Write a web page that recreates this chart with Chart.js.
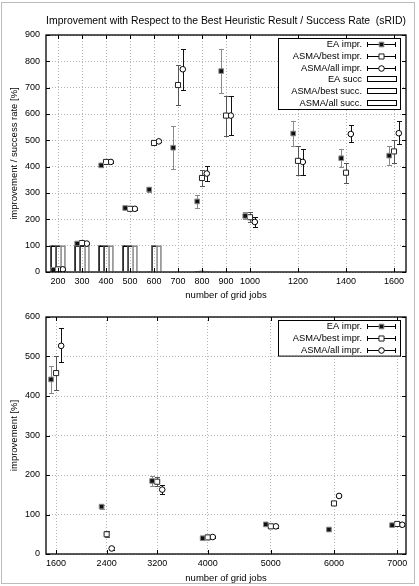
<!DOCTYPE html>
<html>
<head>
<meta charset="utf-8">
<script src="https://cdn.jsdelivr.net/npm/chart.js@4.4.1/dist/chart.umd.min.js"></script>
<style>
  html, body { margin: 0; padding: 0; background: #fff; }
  #page { position: relative; width: 419px; height: 586px; overflow: hidden; }
  #frame { position: absolute; left: 1px; top: 2px; width: 412px; height: 580px; border: 1px solid #bbb; pointer-events: none; }
  canvas { position: absolute; left: 0; }
  #top { top: 0; }
  #bottom { top: 302px; }
</style>
</head>
<body>
<div id="page">
  <canvas id="top" width="419" height="302"></canvas>
  <canvas id="bottom" width="419" height="284"></canvas>
  <div id="frame"></div>
</div>
<script>
const FONT = '"Liberation Sans", Arial, Helvetica, sans-serif'

// upper panel (sRID, 200..1600 jobs)
const jobsSmall = [200, 300, 400, 500, 600, 700, 800, 900, 1000, 1200, 1400, 1600]
const xTicksSmall = [200, 300, 400, 500, 600, 700, 800, 900, 1000, 1200, 1400, 1600]
const yTicksSmall = [0, 100, 200, 300, 400, 500, 600, 700, 800, 900]
const eaImprSmall = [8, 108, 405, 243, 313, 472, 268, 763, 213, 526, 432, 442]
const eaErrSmall = [[5, 11], [104, 112], [400, 410], [240, 246], [305, 322], [392, 553], [243, 293], [680, 845], [200, 228], [480, 572], [398, 468], [408, 477]]
const bestImprSmall = [10, 110, 418, 240, 490, 710, 357, 594, 208, 422, 377, 458]
const bestErrSmall = [[7, 13], [106, 114], [414, 422], [236, 244], [484, 496], [635, 785], [328, 388], [518, 670], [190, 227], [368, 478], [338, 415], [415, 502]]
const allImprSmall = [10, 108, 418, 240, 496, 770, 374, 594, 190, 418, 524, 527]
const allErrSmall = [[7, 13], [105, 111], [415, 421], [237, 243], [492, 500], [693, 848], [345, 402], [520, 667], [172, 207], [370, 467], [492, 557], [485, 572]]
const eaSucc = [100, 100, 100, 100, 2, 0, 1, 0, 0, 0, 0, 0]
const bestSucc = [100, 100, 100, 100, 100, 0, 4, 0, 0, 0, 0, 0]
const allSucc = [100, 100, 100, 100, 100, 0, 3, 0, 0, 0, 0, 0]

// lower panel (1600..7000 jobs)
const jobsLarge = [1600, 2400, 3200, 4000, 5000, 6000, 7000]
const xTicksLarge = [1600, 2400, 3200, 4000, 5000, 6000, 7000]
const yTicksLarge = [0, 100, 200, 300, 400, 500, 600]
const eaImprLarge = [442, 120, 185, 40, 75, 62, 73]
const eaErrLarge = [[408, 477], [115, 125], [172, 198], [37, 43], [71, 79], [59, 65], [70, 76]]
const bestImprLarge = [458, 50, 183, 42, 70, 128, 76]
const bestErrLarge = [[415, 502], [42, 58], [172, 194], [39, 45], [67, 73], [124, 132], [72, 80]]
const allImprLarge = [527, 14, 163, 43, 70, 147, 74]
const allErrLarge = [[485, 572], [10, 18], [152, 175], [40, 46], [67, 73], [144, 150], [71, 77]]

const eaStyle = { pointStyle: 'rect', pointRadius: 3.3, borderColor: '#8a8a8a', backgroundColor: '#111', borderWidth: 1, errColor: '#8a8a8a' }
const bestStyle = { pointStyle: 'rect', pointRadius: 3.6, borderColor: '#222', backgroundColor: '#fff', borderWidth: 1, errColor: '#555' }
const allStyle = { pointStyle: 'circle', pointRadius: 2.8, borderColor: '#000', backgroundColor: '#fff', borderWidth: 1, errColor: '#111' }

function imprSet(label, xs, ys, errs, shift, style) {
  return {
    type: 'scatter',
    label,
    data: xs.map((x, i) => ({ x: x + shift, y: ys[i], lo: errs[i][0], hi: errs[i][1] })),
    pointHoverRadius: style.pointRadius,
    ...style,
  }
}

function succSet(label, xs, ys, color, edges) {
  return {
    type: 'bar',
    label,
    data: xs.map((x, i) => ({ x, y: ys[i] })),
    backgroundColor: 'rgba(0,0,0,0)',
    borderColor: color,
    borderWidth: edges,
    borderSkipped: false,
    barThickness: 5,
    succ: true,
  }
}

const gnuplotLook = {
  id: 'gnuplotLook',
  beforeDatasetDraw(chart, args) {
    const ds = chart.data.datasets[args.index]
    if (!ds.errColor) return
    const { ctx, scales: { x, y } } = chart
    ctx.save()
    ctx.strokeStyle = ds.errColor
    ctx.lineWidth = 1
    ctx.beginPath()
    ds.data.forEach(d => {
      const px = Math.round(x.getPixelForValue(d.x)) + 0.5
      const top = Math.round(y.getPixelForValue(d.hi)) + 0.5
      const bot = Math.round(y.getPixelForValue(d.lo)) + 0.5
      ctx.moveTo(px, top); ctx.lineTo(px, bot)
      ctx.moveTo(px - 2.5, top); ctx.lineTo(px + 2.5, top)
      ctx.moveTo(px - 2.5, bot); ctx.lineTo(px + 2.5, bot)
    })
    ctx.stroke()
    ctx.restore()
  },
  afterDraw(chart, args, opts) {
    const { ctx, chartArea: a, scales: { x, y } } = chart
    ctx.save()
    ctx.strokeStyle = '#000'
    ctx.lineWidth = 1
    ctx.beginPath()
    y.ticks.forEach(t => {
      const py = Math.round(y.getPixelForValue(t.value)) + 0.5
      ctx.moveTo(a.left, py); ctx.lineTo(a.left + 4, py)
      ctx.moveTo(a.right, py); ctx.lineTo(a.right - 4, py)
    })
    x.ticks.forEach(t => {
      const px = Math.round(x.getPixelForValue(t.value)) + 0.5
      ctx.moveTo(px, a.bottom); ctx.lineTo(px, a.bottom - 4)
      ctx.moveTo(px, a.top); ctx.lineTo(px, a.top + 4)
    })
    ctx.stroke()
    ctx.lineWidth = 1.3
    ctx.strokeRect(a.left, a.top, a.right - a.left, a.bottom - a.top)

    ctx.fillStyle = '#000'
    if (opts.title) {
      ctx.font = '10.4px ' + FONT
      ctx.textAlign = 'center'
      ctx.textBaseline = 'middle'
      ctx.fillText(opts.title, (a.left + a.right) / 2, opts.titleY)
    }

    // key box, gnuplot style: text on the left, sample on the right
    const sets = chart.data.datasets
    const step = 11.8
    const boxL = a.right - 128, boxR = a.right - 6, boxT = a.top + 3
    const boxB = boxT + 12 + (sets.length - 1) * step
    ctx.fillStyle = '#fff'
    ctx.fillRect(boxL, boxT, boxR - boxL, boxB - boxT)
    ctx.lineWidth = 1
    ctx.strokeStyle = '#000'
    ctx.strokeRect(boxL + 0.5, boxT + 0.5, boxR - boxL, boxB - boxT)
    ctx.font = '9.3px ' + FONT
    ctx.textAlign = 'right'
    ctx.textBaseline = 'middle'
    const sL = a.right - 39, sR = a.right - 10
    sets.forEach((ds, i) => {
      const cy = Math.round(boxT + 6 + i * step) + 0.5
      ctx.fillStyle = '#000'
      ctx.fillText(ds.label, a.right - 44, cy)
      if (ds.succ) {
        ctx.strokeStyle = '#000'
        ctx.strokeRect(sL + 0.5, cy - 3, sR - sL, 5)
      } else {
        ctx.strokeStyle = '#000'
        ctx.beginPath()
        ctx.moveTo(sL, cy); ctx.lineTo(sR, cy)
        ctx.moveTo(sL + 0.5, cy - 2.5); ctx.lineTo(sL + 0.5, cy + 2.5)
        ctx.moveTo(sR - 0.5, cy - 2.5); ctx.lineTo(sR - 0.5, cy + 2.5)
        ctx.stroke()
        ctx.fillStyle = ds.backgroundColor
        ctx.strokeStyle = ds.borderColor
        ctx.lineWidth = ds.borderWidth
        Chart.helpers.drawPoint(ctx, { pointStyle: ds.pointStyle, radius: ds.pointRadius, borderWidth: ds.borderWidth, rotation: 0 }, (sL + sR) / 2, cy)
        ctx.lineWidth = 1
      }
    })
    ctx.restore()
  },
}

function axes(xMin, xMax, xTicks, yMax, yTicks, yTitle, xAxisHeight, xTitlePad) {
  return {
    x: {
      type: 'linear',
      min: xMin,
      max: xMax,
      offset: false,
      afterBuildTicks: s => { s.ticks = xTicks.map(v => ({ value: v })) },
      afterFit: s => { s.height = xAxisHeight },
      grid: { color: '#b4b4b4', lineWidth: 1, drawTicks: false, offset: false },
      border: { display: false, dash: [1, 2] },
      ticks: { color: '#000', font: { family: FONT, size: 9 }, padding: 4, maxRotation: 0, autoSkip: false, callback: v => String(v) },
      title: { display: true, text: 'number of grid jobs', color: '#000', font: { family: FONT, size: 9.5 }, padding: { top: 0, bottom: xTitlePad } },
    },
    y: {
      type: 'linear',
      min: 0,
      max: yMax,
      afterBuildTicks: s => { s.ticks = yTicks.map(v => ({ value: v })) },
      afterFit: s => { s.width = 42 },
      grid: { color: '#b4b4b4', lineWidth: 1, drawTicks: false },
      border: { display: false, dash: [1, 2] },
      ticks: { color: '#000', font: { family: FONT, size: 9 }, padding: 6, callback: v => String(v) },
      title: { display: true, text: yTitle, color: '#000', font: { family: FONT, size: 9.5 }, padding: { top: 4.5, bottom: 0 } },
    },
  }
}

new Chart(document.getElementById('top').getContext('2d'), {
  type: 'scatter',
  data: {
    datasets: [
      imprSet('EA impr.', jobsSmall, eaImprSmall, eaErrSmall, -20, eaStyle),
      imprSet('ASMA/best impr.', jobsSmall, bestImprSmall, bestErrSmall, 0, bestStyle),
      imprSet('ASMA/all impr.', jobsSmall, allImprSmall, allErrSmall, 20, allStyle),
      succSet('EA succ', jobsSmall, eaSucc, '#000', { left: 1, top: 1, right: 0, bottom: 0 }),
      succSet('ASMA/best succ.', jobsSmall, bestSucc, '#222', { left: 1, top: 1, right: 0, bottom: 0 }),
      succSet('ASMA/all succ.', jobsSmall, allSucc, '#888', { left: 1, top: 1, right: 1, bottom: 0 }),
    ],
  },
  options: {
    responsive: false,
    animation: false,
    layout: { padding: { left: 4, right: 13, top: 35, bottom: 0 } },
    scales: axes(150, 1650, xTicksSmall, 900, yTicksSmall, 'improvement / success rate [%]', 30, 1),
    plugins: {
      legend: { display: false },
      tooltip: { enabled: false },
      gnuplotLook: { title: 'Improvement with Respect to the Best Heuristic Result / Success Rate  (sRID)', titleY: 21.5 },
    },
  },
  plugins: [gnuplotLook],
})

new Chart(document.getElementById('bottom').getContext('2d'), {
  type: 'scatter',
  data: {
    datasets: [
      imprSet('EA impr.', jobsLarge, eaImprLarge, eaErrLarge, -80, eaStyle),
      imprSet('ASMA/best impr.', jobsLarge, bestImprLarge, bestErrLarge, 0, bestStyle),
      imprSet('ASMA/all impr.', jobsLarge, allImprLarge, allErrLarge, 80, allStyle),
    ],
  },
  options: {
    responsive: false,
    animation: false,
    layout: { padding: { left: 4, right: 13, top: 15, bottom: 0 } },
    scales: axes(1440, 7140, xTicksLarge, 600, yTicksLarge, 'improvement [%]', 32, 2.3),
    plugins: {
      legend: { display: false },
      tooltip: { enabled: false },
      gnuplotLook: {},
    },
  },
  plugins: [gnuplotLook],
})
</script>
</body>
</html>
